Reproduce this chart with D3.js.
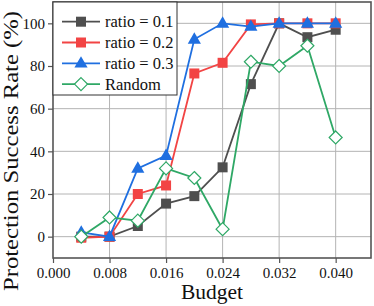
<!DOCTYPE html>
<html>
<head>
<meta charset="utf-8">
<script src="https://cdn.jsdelivr.net/npm/d3@7"></script>
<style>
  body { margin: 0; background: #fff; }
</style>
</head>
<body>
<svg id="chart" width="374" height="306"></svg>
<script>
// budgets on the x axis
var budgets = [0.004, 0.008, 0.012, 0.016, 0.020, 0.024, 0.028, 0.032, 0.036, 0.040];

// protection success rate (%) for each setting
var ratio01 = [0, 0, 5, 15.5, 19, 32.5, 71.5, 100, 93.5, 97];
var ratio02 = [-0.5, 0, 20, 24, 76.5, 81.5, 99.5, 100, 100, 100];
var ratio03 = [2, 0, 32, 38, 92.5, 100, 98.5, 100, 100, 100];
var random = [0, 9, 7.5, 32, 27.5, 3.5, 82, 80, 89.5, 46.5];

var xTicks = [0, 0.008, 0.016, 0.024, 0.032, 0.040];
var yTicks = [0, 20, 40, 60, 80, 100];

var series = [
  { name: "ratio = 0.1", values: ratio01, color: "#4f4f4f", marker: "square" },
  { name: "ratio = 0.2", values: ratio02, color: "#f24444", marker: "square" },
  { name: "ratio = 0.3", values: ratio03, color: "#1f6fe0", marker: "triangle" },
  { name: "Random", values: random, color: "#2fa866", marker: "diamond" }
];

var FONT = "'Liberation Serif', 'Times New Roman', Times, serif";

var svg = d3.select("#chart");
var margin = { left: 53, right: 3, top: 2, bottom: 48 };
var width = 374, height = 306;

var x = d3.scaleLinear().domain([0, 0.045]).range([margin.left, width - margin.right]);
var y = d3.scaleLinear().domain([-10, 110]).range([height - margin.bottom, margin.top]);

// grid
svg.append("g").selectAll("line.v").data(xTicks.slice(1)).enter().append("line")
  .attr("x1", function(d) { return x(d); }).attr("x2", function(d) { return x(d); })
  .attr("y1", y(-10)).attr("y2", y(110))
  .attr("stroke", "#b4b4b4").attr("stroke-width", 1);
svg.append("g").selectAll("line.h").data(yTicks).enter().append("line")
  .attr("x1", x(0)).attr("x2", x(0.045))
  .attr("y1", function(d) { return y(d); }).attr("y2", function(d) { return y(d); })
  .attr("stroke", "#b4b4b4").attr("stroke-width", 1);

// axes
var xAxis = svg.append("g")
  .attr("transform", "translate(0," + y(-10) + ")")
  .call(d3.axisBottom(x).tickValues(xTicks).tickFormat(d3.format(".3f")).tickSize(5).tickPadding(4));
var yAxis = svg.append("g")
  .attr("transform", "translate(" + x(0) + ",0)")
  .call(d3.axisLeft(y).tickValues(yTicks).tickSize(5).tickPadding(3));
[xAxis, yAxis].forEach(function(a) {
  a.attr("font-family", FONT).attr("font-size", 15);
  a.selectAll("text").attr("fill", "#111");
  a.selectAll("line").attr("stroke", "#555").attr("stroke-width", 1.2);
  a.select(".domain").remove();
});

// frame
svg.append("rect")
  .attr("x", x(0)).attr("y", y(110))
  .attr("width", x(0.045) - x(0)).attr("height", y(-10) - y(110))
  .attr("fill", "none").attr("stroke", "#555").attr("stroke-width", 1.6);

var line = d3.line()
  .x(function(d, i) { return x(budgets[i]); })
  .y(function(d) { return y(d); });

function drawMarker(g, type, color, cx, cy) {
  if (type == "square") {
    g.append("rect").attr("x", cx - 5).attr("y", cy - 5).attr("width", 10).attr("height", 10)
      .attr("fill", color);
  } else if (type == "triangle") {
    g.append("path").attr("d", d3.symbol().type(d3.symbolTriangle).size(75)())
      .attr("transform", "translate(" + cx + "," + (cy + 0.5) + ")")
      .attr("fill", color);
  } else {
    g.append("path").attr("d", "M0,-6.5L6.5,0L0,6.5L-6.5,0Z")
      .attr("transform", "translate(" + cx + "," + cy + ")")
      .attr("fill", "#fff").attr("stroke", color).attr("stroke-width", 1.2);
  }
}

series.forEach(function(s) {
  var g = svg.append("g");
  g.append("path").datum(s.values)
    .attr("d", line)
    .attr("fill", "none").attr("stroke", s.color).attr("stroke-width", 1.8);
  s.values.forEach(function(v, i) {
    drawMarker(g, s.marker, s.color, x(budgets[i]), y(v));
  });
});

// legend
var lg = svg.append("g");
lg.append("rect").attr("x", x(0)).attr("y", y(110)).attr("width", 124).attr("height", 93)
  .attr("fill", "#fff").attr("stroke", "#333").attr("stroke-width", 1);
series.forEach(function(s, i) {
  var ly = 21.7 + i * 20.8;
  lg.append("line").attr("x1", 62).attr("x2", 100).attr("y1", ly).attr("y2", ly)
    .attr("stroke", s.color).attr("stroke-width", 1.8);
  drawMarker(lg, s.marker, s.color, 81, ly);
  lg.append("text").attr("x", 105).attr("y", ly + 5.5)
    .attr("font-family", FONT).attr("font-size", 16.5).attr("fill", "#111").text(s.name);
});

// axis titles
svg.append("text")
  .attr("x", (x(0) + x(0.045)) / 2).attr("y", 299)
  .attr("text-anchor", "middle").attr("font-family", FONT).attr("font-size", 21.5)
  .attr("fill", "#111").text("Budget");
svg.append("text")
  .attr("transform", "translate(18,151) rotate(-90)")
  .attr("text-anchor", "middle").attr("font-family", FONT).attr("font-size", 20)
  .attr("textLength", 280).attr("lengthAdjust", "spacingAndGlyphs")
  .attr("fill", "#111").text("Protection Success Rate (%)");
</script>
</body>
</html>
